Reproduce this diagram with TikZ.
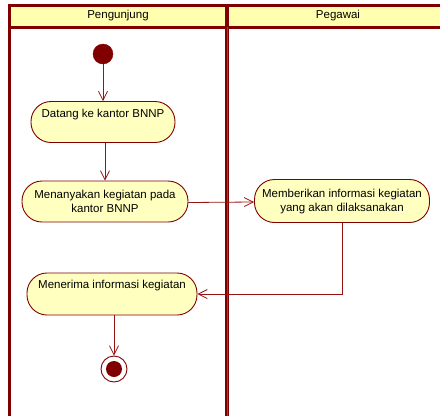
\documentclass[tikz,border=0pt]{standalone}
\usepackage{fontspec}
\setmainfont{Liberation Sans}
\usetikzlibrary{arrows.meta,calc}
\definecolor{umlred}{RGB}{128,0,0}
\definecolor{linered}{RGB}{150,20,20}
\definecolor{headfill}{RGB}{255,255,175}
\definecolor{nodefill}{RGB}{255,255,192}
\begin{document}
\begin{tikzpicture}[x=1pt,y=-1pt,
  font=\fontsize{11.5}{14}\selectfont,
  pill/.style={draw=umlred,fill=nodefill,line width=0.9pt,rounded corners=20pt,inner sep=0pt},
  txt/.style={inner sep=0pt,align=center,text=black},
  flow/.style={draw=linered,line width=0.8pt,-{Straight Barb[length=9pt,width=9pt,line width=0.8pt]}},
  lane/.style={draw=umlred,line width=3pt},
  startdot/.style={circle,fill=umlred,draw=umlred,minimum size=20pt,inner sep=0pt},
  enddot/.style={circle,draw=umlred,fill=white,line width=0.9pt,minimum size=26pt,inner sep=0pt}
]
\useasboundingbox (0,0) rectangle (440,416);
% swimlanes
\fill[headfill] (9,5) rectangle (445,27);
\draw[lane] (445,5) -- (9,5) -- (9,416);
\draw[lane] (9,27) -- (445,27);
\draw[lane,line width=3.5pt] (227,5) -- (227,416);
\draw[draw=linered!85!white,line width=0.6pt] (227,27) -- (227,416);
\node[txt] (h1) at (118,16) {Pengunjung};
\node[txt] (h2) at (338,16) {Pegawai};
% start
\node[startdot] (start) at (103,54) {};
% activities
\node[pill,minimum width=144pt,minimum height=41pt] (n1) at (103,122) {};
\node[txt] (t1) at (103,115) {Datang ke kantor BNNP};
\node[pill,minimum width=166pt,minimum height=41pt] (n2) at (105,201.5) {};
\node[txt] (t2) at (105,201.5) {Menanyakan kegiatan pada\\kantor BNNP};
\node[pill,minimum width=175pt,minimum height=43pt] (n3) at (342,201) {};
\node[txt] (t3) at (342,201.5) {Memberikan informasi kegiatan\\yang akan dilaksanakan};
\node[pill,minimum width=170pt,minimum height=42pt] (n4) at (112,294) {};
\node[txt] (t4) at (112,286) {Menerima informasi kegiatan};
% end
\node[enddot] (end) at (114,369) {};
\node[circle,fill=umlred,minimum size=16pt,inner sep=0pt] (endin) at (end) {};
% flows
\draw[flow] (start) -- (start |- n1.north);
\draw[flow] (n2.north -| 105,0) ++(0,-38) coordinate (c1) (n1.south -| c1) -- (n2.north -| c1);
\draw[flow] ($(n2.east)+(0,1)$) -- ($(n3.west)+(0,1)$);
\draw[flow] (n3.south) |- (n4.east);
\draw[flow] (n4.south -| end) -- (end.north);
\end{tikzpicture}
\end{document}
